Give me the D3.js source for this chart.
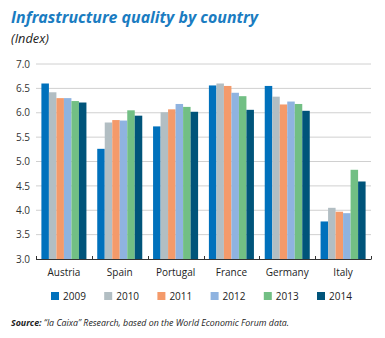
<!DOCTYPE html>
<html>
<head>
<meta charset="utf-8">
<script src="https://cdn.jsdelivr.net/npm/d3@7"></script>
<style>
  html, body { margin: 0; padding: 0; background: #fff; }
  svg { display: block; }
</style>
</head>
<body>
<svg id="chart" width="385" height="338"></svg>
<script>
// Infrastructure quality index by country and year
const countries = ["Austria", "Spain", "Portugal", "France", "Germany", "Italy"];
const years = ["2009", "2010", "2011", "2012", "2013", "2014"];
const v2009 = [6.60, 5.26, 5.72, 6.56, 6.55, 3.77];
const v2010 = [6.42, 5.80, 6.01, 6.60, 6.33, 4.05];
const v2011 = [6.30, 5.85, 6.07, 6.55, 6.17, 3.97];
const v2012 = [6.30, 5.84, 6.18, 6.41, 6.23, 3.94];
const v2013 = [6.24, 6.05, 6.12, 6.34, 6.18, 4.83];
const v2014 = [6.21, 5.94, 6.02, 6.06, 6.04, 4.59];
const yTicks = [3.0, 3.5, 4.0, 4.5, 5.0, 5.5, 6.0, 6.5, 7.0];
const colors = ["#0071bc", "#b2bec3", "#f49a6a", "#8fb3e0", "#72bf84", "#00547a"];

const series = [v2009, v2010, v2011, v2012, v2013, v2014];

const svg = d3.select("#chart");
const margin = { left: 36, right: 14, top: 64, bottom: 79 };
const W = 385, H = 338;
const font = "'Open Sans', 'Noto Sans', sans-serif";

const x0 = d3.scaleBand().domain(countries).range([margin.left, W - margin.right]).paddingInner(0).paddingOuter(0);
const x1 = d3.scaleBand().domain(years).range([0, x0.bandwidth()]).paddingOuter(0.72).paddingInner(0);
const y = d3.scaleLinear().domain([3, 7]).range([H - margin.bottom, margin.top]);

// Title and unit
svg.append("text").attr("x", 11).attr("y", 23)
  .attr("font-family", font)
  .attr("font-weight", 700).attr("font-style", "italic").attr("font-size", 16.5)
  .attr("fill", "#1a7cc1").attr("textLength", 247).attr("lengthAdjust", "spacingAndGlyphs")
  .text("Infrastructure quality by country");
svg.append("text").attr("x", 11).attr("y", 43)
  .attr("font-family", font)
  .attr("font-style", "italic").attr("font-size", 12.5).attr("fill", "#222")
  .attr("textLength", 38).attr("lengthAdjust", "spacingAndGlyphs")
  .text("(Index)");

// Gridlines
svg.append("g").selectAll("line").data(yTicks.slice(1)).join("line")
  .attr("x1", margin.left).attr("x2", W - margin.right)
  .attr("y1", d => y(d)).attr("y2", d => y(d))
  .attr("stroke", "#d0d0d0").attr("stroke-width", 1);

// Y axis labels
const yAxis = d3.axisLeft(y).tickValues(yTicks).tickFormat(d3.format(".1f")).tickSize(0).tickPadding(6);
const gy = svg.append("g").attr("transform", `translate(${margin.left},0)`).call(yAxis);
gy.select(".domain").remove();
gy.selectAll("text").attr("font-family", font)
  .attr("font-size", 10).attr("fill", "#333");

// Bars
const gBars = svg.append("g");
countries.forEach((c, i) => {
  const g = gBars.append("g").attr("transform", `translate(${x0(c)},0)`);
  g.selectAll("rect").data(years.map((yr, j) => ({ yr, v: series[j][i], j }))).join("rect")
    .attr("x", d => x1(d.yr))
    .attr("width", x1.bandwidth())
    .attr("y", d => y(d.v))
    .attr("height", d => y(3) - y(d.v))
    .attr("fill", d => colors[d.j]);
});

// X axis with boundary ticks
const base = y(3);
svg.append("line").attr("x1", margin.left).attr("x2", W - margin.right)
  .attr("y1", base + 0.5).attr("y2", base + 0.5).attr("stroke", "#333").attr("stroke-width", 1);
const bounds = countries.map(c => x0(c)).concat([x0.range()[1]]);
svg.append("g").selectAll("line").data(bounds).join("line")
  .attr("x1", d => Math.round(d) + 0.5).attr("x2", d => Math.round(d) + 0.5)
  .attr("y1", base - 3).attr("y2", base + 0.5)
  .attr("stroke", "#333").attr("stroke-width", 1);
svg.append("g").selectAll("text").data(countries).join("text")
  .attr("x", d => x0(d) + x0.bandwidth() / 2).attr("y", base + 17)
  .attr("text-anchor", "middle")
  .attr("font-family", font)
  .attr("font-size", 10).attr("fill", "#222")
  .text(d => d);

// Legend
const legendX = d3.scalePoint().domain(years).range([51, 317]);
const lg = svg.append("g").selectAll("g").data(years).join("g")
  .attr("transform", d => `translate(${legendX(d)},292)`);
lg.append("rect").attr("width", 8).attr("height", 8).attr("fill", (d, i) => colors[i]);
lg.append("text").attr("x", 12).attr("y", 8)
  .attr("font-family", font)
  .attr("font-size", 10).attr("fill", "#222").text(d => d);

// Source note
const src = svg.append("text").attr("x", 11).attr("y", 326)
  .attr("font-family", font)
  .attr("font-style", "italic").attr("font-size", 8.8).attr("fill", "#222")
  .attr("textLength", 278).attr("lengthAdjust", "spacingAndGlyphs");
src.append("tspan").attr("font-weight", 700).text("Source: ");
src.append("tspan").text("\u201Cla Caixa\u201D Research, based on the World Economic Forum data.");
</script>
</body>
</html>
